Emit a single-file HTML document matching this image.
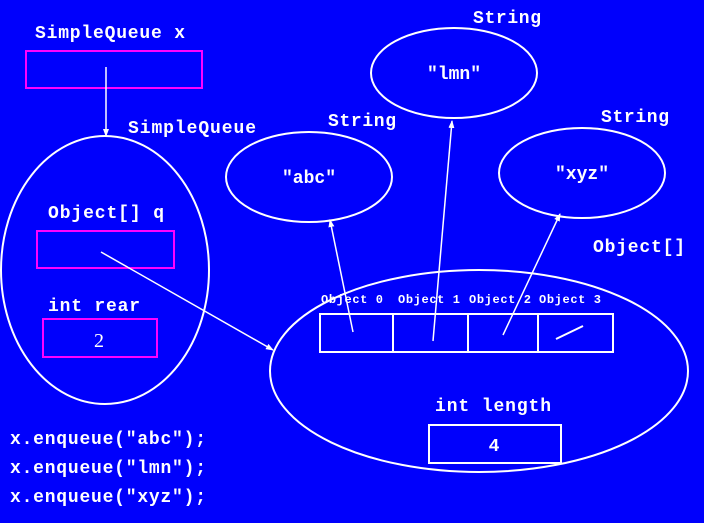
<!DOCTYPE html>
<html><head><style>
html,body{margin:0;padding:0;background:#0000fc;}
svg{display:block}
text{font-family:"Liberation Mono",monospace;font-weight:bold;fill:#fff;font-size:18px}
text.s{font-size:12px}
</style></head><body>
<svg width="704" height="523" viewBox="0 0 704 523" xmlns="http://www.w3.org/2000/svg">
<defs><marker id="a" markerWidth="8" markerHeight="8" refX="7" refY="4" orient="auto" markerUnits="userSpaceOnUse"><path d="M0,1 L8,4 L0,7 Z" fill="#fff"/></marker></defs>
<rect width="704" height="523" fill="#0000fc"/>
<g fill="none" stroke="#fff" stroke-width="2">
<ellipse cx="105" cy="270" rx="104" ry="134"/>
<ellipse cx="479" cy="371" rx="209" ry="101"/>
<ellipse cx="309" cy="177" rx="83" ry="45"/>
<ellipse cx="454" cy="73" rx="83" ry="45"/>
<ellipse cx="582" cy="173" rx="83" ry="45"/>
<rect x="320" y="314" width="293" height="38"/>
<line x1="393" y1="314" x2="393" y2="352"/><line x1="468" y1="314" x2="468" y2="352"/><line x1="538" y1="314" x2="538" y2="352"/>
<rect x="429" y="425" width="132" height="38"/>
<line x1="556" y1="339" x2="583" y2="326"/>
</g>
<g fill="none" stroke="#f0f" stroke-width="2">
<rect x="26" y="51" width="176" height="37"/>
<rect x="37" y="231" width="137" height="37"/>
<rect x="43" y="319" width="114" height="38"/>
</g>
<g stroke="#fff" stroke-width="1.5" marker-end="url(#a)">
<line x1="106" y1="67" x2="106" y2="136"/>
<line x1="101" y1="252" x2="273" y2="350"/>
<line x1="353" y1="332" x2="330" y2="220"/>
<line x1="433" y1="341" x2="452" y2="121"/>
<line x1="503" y1="335" x2="560" y2="214"/>
</g>
<text x="35" y="38" textLength="150">SimpleQueue x</text>
<text x="128" y="133" textLength="128">SimpleQueue</text>
<text x="48" y="218" textLength="116">Object[] q</text>
<text x="48" y="311" textLength="92">int rear</text>
<text x="99" y="347" text-anchor="middle" style="font-family:'Liberation Serif',serif;font-weight:normal;font-size:20px">2</text>
<text x="593" y="252" textLength="92">Object[]</text>
<text x="435" y="411" textLength="116">int length</text>
<text x="494" y="451" text-anchor="middle">4</text>
<text x="473" y="23" textLength="68">String</text>
<text x="328" y="126" textLength="68">String</text>
<text x="601" y="122" textLength="68">String</text>
<text x="309" y="183" text-anchor="middle">"abc"</text>
<text x="454" y="79" text-anchor="middle">"lmn"</text>
<text x="582" y="179" text-anchor="middle">"xyz"</text>
<text class="s" x="321" y="303" textLength="62">Object 0</text>
<text class="s" x="398" y="303" textLength="62">Object 1</text>
<text class="s" x="469" y="303" textLength="62">Object 2</text>
<text class="s" x="539" y="303" textLength="62">Object 3</text>
<text x="10" y="444" textLength="196">x.enqueue("abc");</text>
<text x="10" y="473" textLength="196">x.enqueue("lmn");</text>
<text x="10" y="502" textLength="196">x.enqueue("xyz");</text>
</svg>
</body></html>
